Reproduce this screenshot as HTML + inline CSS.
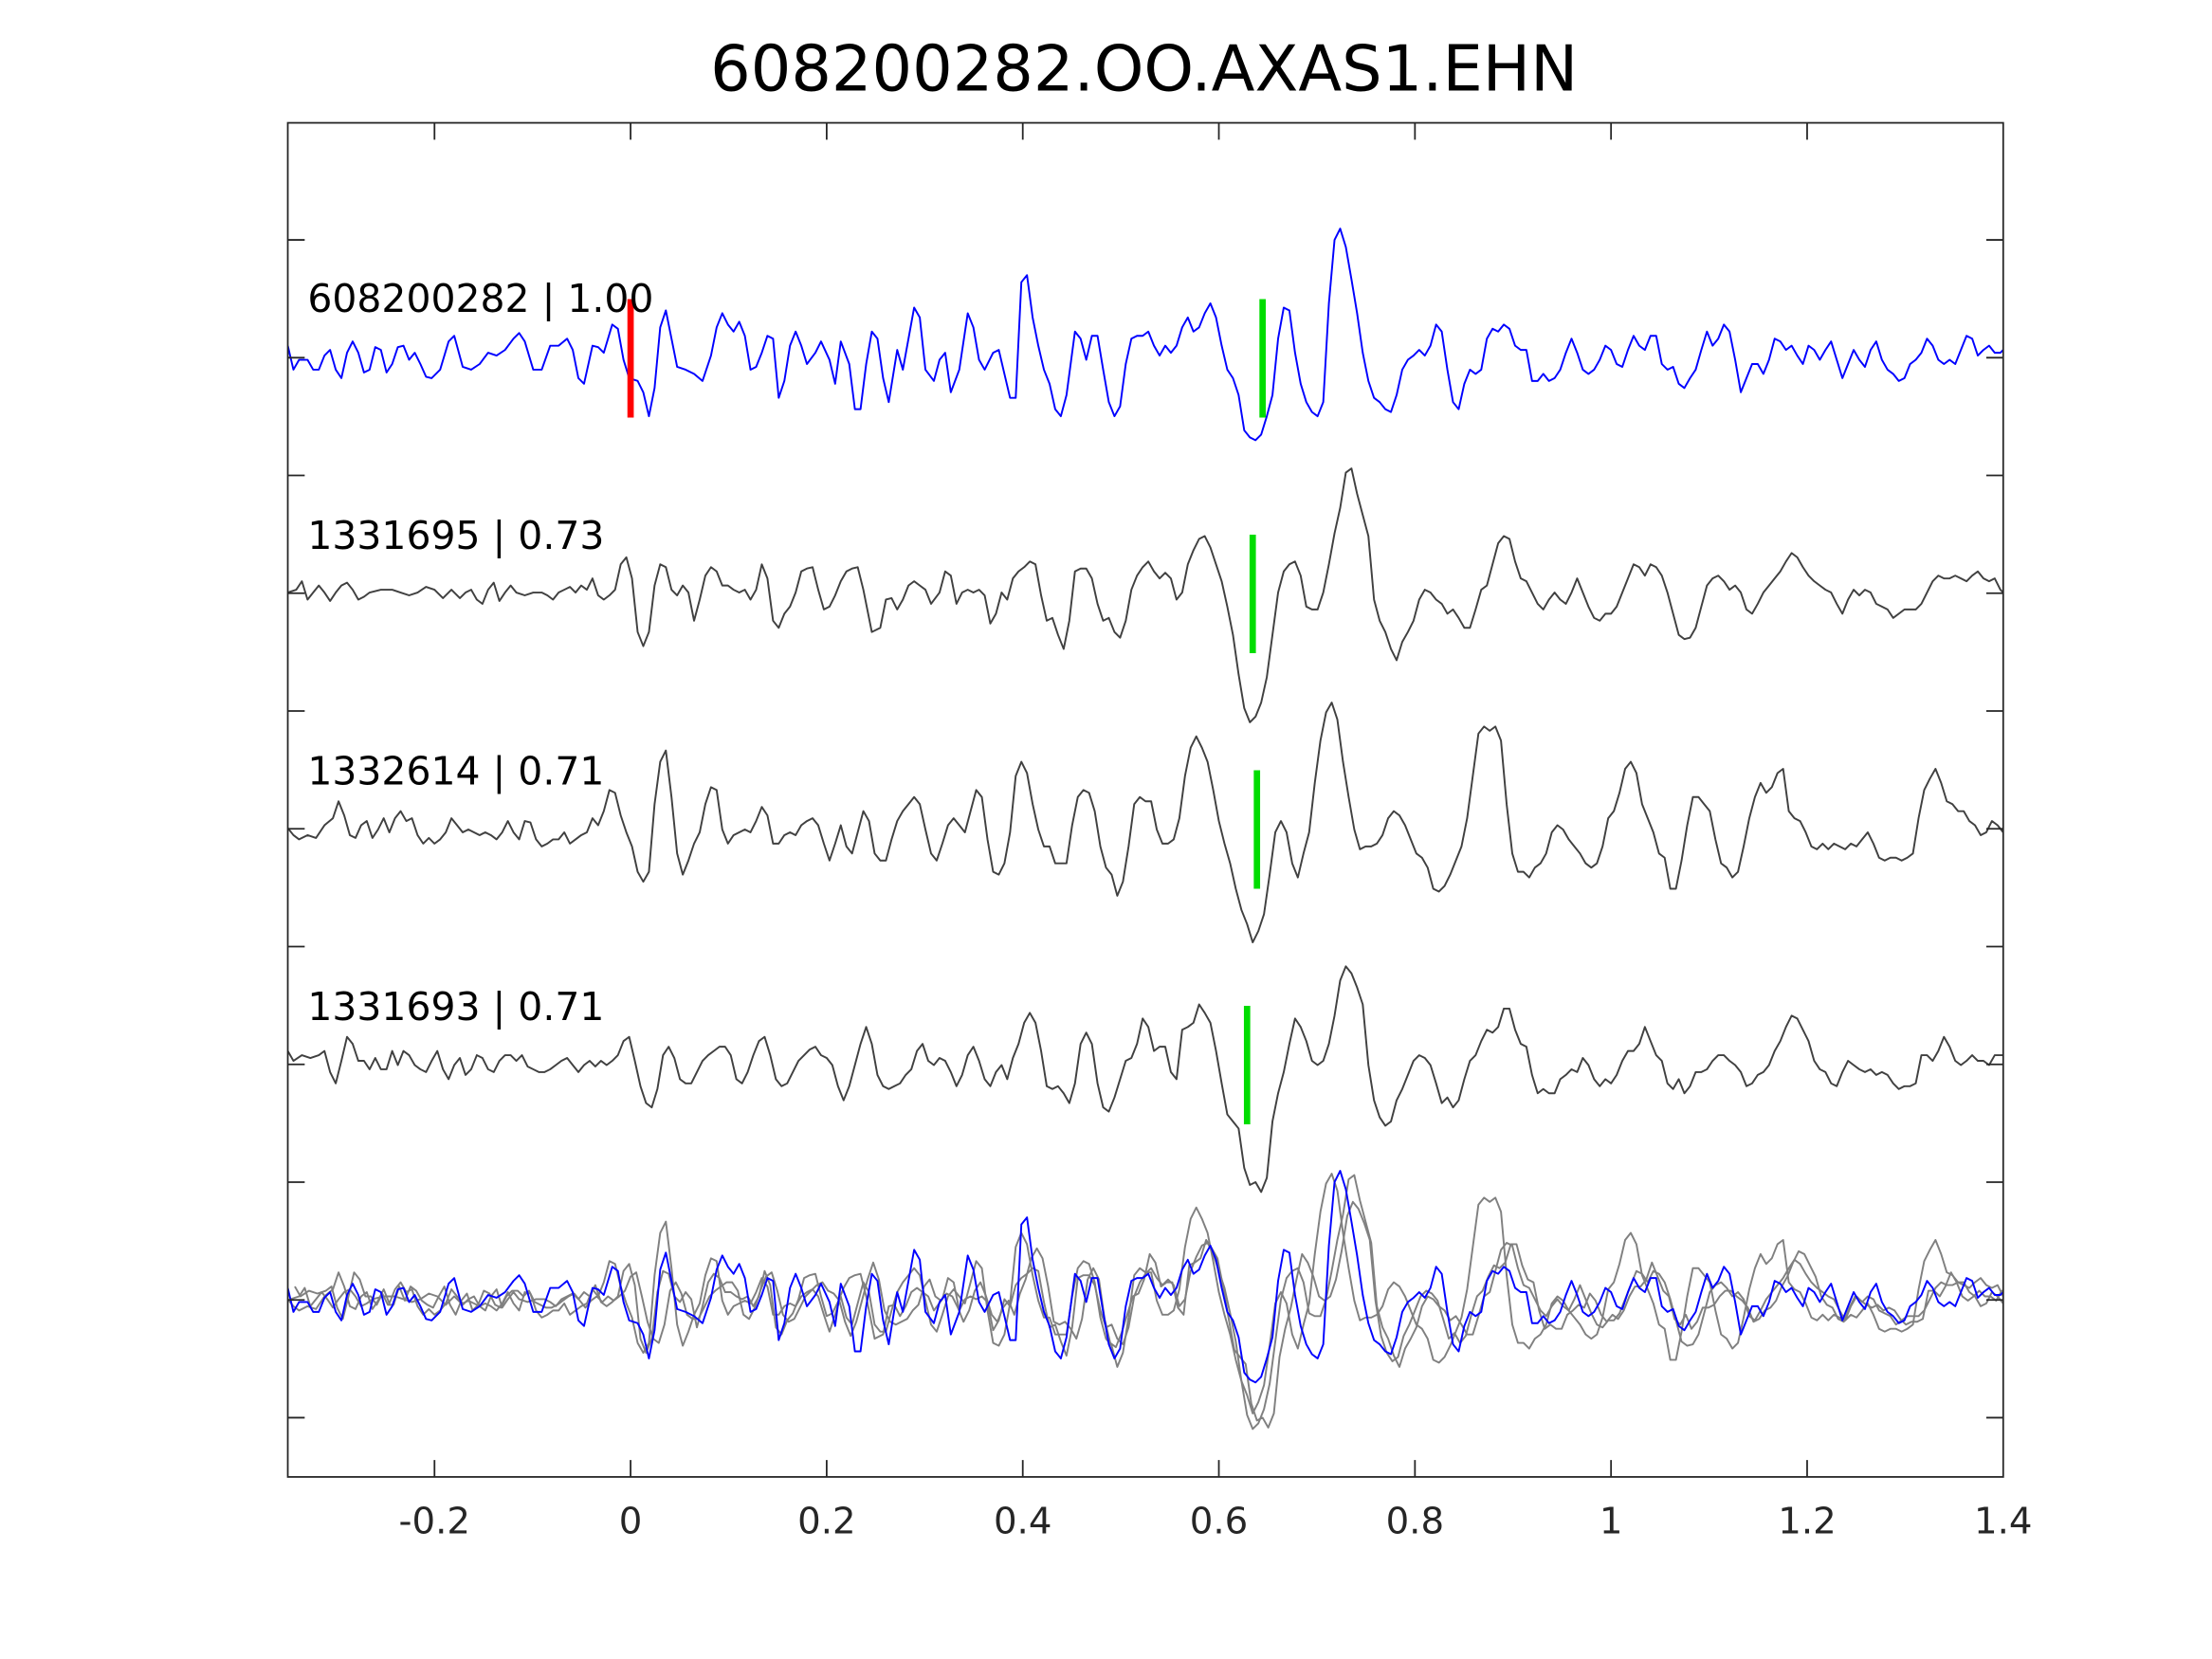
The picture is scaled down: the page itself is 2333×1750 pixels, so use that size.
<!DOCTYPE html>
<html><head><meta charset="utf-8"><style>
html,body{margin:0;padding:0;background:#fff;}
svg{display:block;}
text{font-family:"DejaVu Sans","Liberation Sans",sans-serif;}
</style></head><body>
<svg width="2333" height="1750" viewBox="0 0 1568 1176" xmlns="http://www.w3.org/2000/svg">
<defs>
<polyline id="t1" fill="none" stroke-width="1.3" stroke-linejoin="round" points="204,245 208,262 212,255 218,255 222,262 226,262 230,252 234,248 238,262 242,268 246,250 250,242 254,250 258,264 262,262 266,246 270,248 274,264 278,258 282,246 286,245 290,255 294,250 298,258 302,267 306,268 312,262 318,242 322,238 328,260 334,262 340,258 346,250 352,252 358,248 364,240 368,236 372,242 378,262 384,262 390,245 396,245 402,240 406,248 410,268 414,272 420,245 424,246 428,250 434,230 438,233 442,255 446,268 452,270 456,278 460,295 464,275 468,232 472,220 476,240 480,260 486,262 492,265 498,270 504,252 508,232 512,222 516,230 520,235 524,228 528,238 532,262 536,260 540,250 544,238 548,240 552,282 556,270 560,245 564,235 568,245 572,258 578,250 582,242 588,255 592,272 596,242 602,258 606,290 610,290 614,258 618,235 622,240 626,268 630,285 636,248 640,262 644,240 648,218 652,225 656,262 662,270 666,255 670,250 674,278 680,262 686,222 690,232 694,255 698,262 704,250 708,248 712,265 716,282 720,282 724,200 728,195 732,225 736,245 740,262 744,272 748,290 752,295 756,280 762,235 766,240 770,255 774,238 778,238 782,262 786,285 790,295 794,288 798,258 802,240 806,238 810,238 814,235 818,245 822,252 826,245 830,250 834,245 838,232 842,225 846,235 850,232 854,222 858,215 862,225 866,245 870,262 874,268 878,280 882,305 886,310 890,312 894,308 898,295 902,280 906,240 910,218 914,220 918,250 922,272 926,285 930,292 934,295 938,285 942,215 946,170 950,162 954,175 958,198 962,222 966,250 970,270 974,282 978,285 982,290 986,292 990,280 994,262 998,255 1002,252 1006,248 1010,252 1014,245 1018,230 1022,235 1026,262 1030,285 1034,290 1038,272 1042,262 1046,265 1050,262 1054,240 1058,233 1062,235 1066,230 1070,233 1074,245 1078,248 1082,248 1086,270 1090,270 1094,265 1098,270 1102,268 1106,262 1110,250 1114,240 1118,250 1122,262 1126,265 1130,262 1134,255 1138,245 1142,248 1146,258 1150,260 1154,248 1158,238 1162,245 1166,248 1170,238 1174,238 1178,258 1182,262 1186,260 1190,272 1194,275 1198,268 1202,262 1206,248 1210,235 1214,245 1218,240 1222,230 1226,235 1230,255 1234,278 1238,268 1242,258 1246,258 1250,265 1254,255 1258,240 1262,242 1266,248 1270,245 1274,252 1278,258 1282,245 1286,248 1290,255 1294,248 1298,242 1302,255 1306,268 1310,258 1314,248 1318,255 1322,260 1326,248 1330,242 1334,255 1338,262 1342,265 1346,270 1350,268 1354,258 1358,255 1362,250 1366,240 1370,245 1374,255 1378,258 1382,255 1386,258 1390,248 1394,238 1398,240 1402,252 1406,248 1410,245 1414,250 1418,250 1420,248"/>
<polyline id="t2" fill="none" stroke-width="1.3" stroke-linejoin="round" points="204,420 210,418 214,412 218,425 222,420 226,415 230,420 234,426 238,420 242,415 246,413 250,418 254,425 258,423 262,420 270,418 278,418 284,420 290,422 296,420 302,416 308,418 314,424 320,418 326,424 330,420 334,418 338,425 342,428 346,418 350,413 354,426 358,420 362,415 366,420 372,422 378,420 384,420 388,422 392,425 396,420 400,418 404,416 408,420 412,415 416,418 420,410 424,422 428,425 432,422 436,418 440,400 444,395 448,410 452,448 456,458 460,448 464,415 468,400 472,402 476,418 480,422 484,415 488,420 492,440 496,425 500,408 504,402 508,405 512,415 516,415 520,418 524,420 528,418 532,425 536,418 540,400 544,410 548,440 552,445 556,435 560,430 564,420 568,405 572,403 576,402 580,418 584,432 588,430 592,422 596,412 600,405 604,403 608,402 612,418 618,448 624,445 628,425 632,424 636,432 640,425 644,415 648,412 652,415 656,418 660,428 666,420 670,405 674,408 678,428 682,420 686,418 690,420 694,418 698,422 702,442 706,435 710,420 714,425 718,410 722,405 726,402 730,398 734,400 738,422 742,440 746,438 750,450 754,460 758,440 762,405 766,403 770,403 774,410 778,428 782,440 786,438 790,448 794,452 798,440 802,418 806,408 810,402 814,398 818,405 822,410 826,406 830,410 834,425 838,420 842,400 846,390 850,382 854,380 858,388 862,400 866,412 870,430 874,450 878,478 882,502 886,512 890,508 894,498 898,480 902,450 906,420 910,405 914,400 918,398 922,408 926,430 930,432 934,432 938,420 942,400 946,378 950,360 954,335 958,332 962,350 966,365 970,380 974,425 978,440 982,448 986,460 990,468 994,455 998,448 1002,440 1006,425 1010,418 1014,420 1018,425 1022,428 1026,435 1030,432 1034,438 1038,445 1042,445 1046,432 1050,418 1054,415 1058,400 1062,385 1066,380 1070,382 1074,398 1078,410 1082,412 1086,420 1090,428 1094,432 1098,425 1102,420 1106,425 1110,428 1114,420 1118,410 1122,420 1126,430 1130,438 1134,440 1138,435 1142,435 1146,430 1150,420 1154,410 1158,400 1162,402 1166,408 1170,400 1174,402 1178,408 1182,420 1186,435 1190,450 1194,453 1198,452 1202,445 1206,430 1210,415 1214,410 1218,408 1222,412 1226,418 1230,415 1234,420 1238,432 1242,435 1246,428 1250,420 1254,415 1258,410 1262,405 1266,398 1270,392 1274,395 1278,402 1282,408 1286,412 1290,415 1294,418 1298,420 1302,428 1306,435 1310,425 1314,418 1318,422 1322,418 1326,420 1330,428 1334,430 1338,432 1342,438 1346,435 1350,432 1354,432 1358,432 1362,428 1366,420 1370,412 1374,408 1378,410 1382,410 1386,408 1390,410 1394,412 1398,408 1402,405 1406,410 1410,412 1414,410 1418,418 1420,420"/>
<polyline id="t3" fill="none" stroke-width="1.3" stroke-linejoin="round" points="204,587 208,592 212,595 218,592 224,594 230,585 236,580 240,568 244,578 248,592 252,594 256,585 260,582 264,594 268,588 272,580 276,590 280,580 284,575 288,582 292,580 296,592 300,598 304,594 308,598 312,595 316,590 320,580 324,585 328,590 332,588 336,590 340,592 344,590 348,592 352,595 356,590 360,582 364,590 368,595 372,582 376,583 380,595 384,600 388,598 392,595 396,595 400,590 404,598 408,595 412,592 416,590 420,580 424,585 428,575 432,560 436,562 440,578 444,590 448,600 452,618 456,625 460,618 464,570 468,540 472,532 476,565 480,605 484,620 488,610 492,598 496,590 500,570 504,558 508,560 512,588 516,598 520,592 524,590 528,588 532,590 536,582 540,572 544,578 548,598 552,598 556,592 560,590 564,592 568,585 572,582 576,580 580,585 584,598 588,610 592,598 596,585 600,600 604,605 608,590 612,575 616,582 620,605 624,610 628,610 632,595 636,582 640,575 644,570 648,565 652,570 656,588 660,605 664,610 668,598 672,585 676,580 680,585 684,590 688,575 692,560 696,565 700,595 704,618 708,620 712,612 716,590 720,550 724,540 728,548 732,570 736,588 740,600 744,600 748,612 752,612 756,612 760,585 764,565 768,560 772,562 776,575 780,600 784,615 788,620 792,635 796,625 800,600 804,570 808,565 812,568 816,568 820,588 824,598 828,598 832,595 836,580 840,550 844,530 848,522 852,530 856,540 860,560 864,582 868,598 872,612 876,630 880,645 884,655 888,668 892,660 896,648 900,620 904,590 908,582 912,590 916,612 920,622 924,605 928,590 932,555 936,525 940,505 944,498 948,510 952,540 956,565 960,588 964,602 968,600 972,600 976,598 980,592 984,580 988,575 992,578 996,585 1000,595 1004,605 1008,608 1012,615 1016,630 1020,632 1024,628 1028,620 1032,610 1036,600 1040,580 1044,550 1048,520 1052,515 1056,518 1060,515 1064,525 1068,570 1072,605 1076,618 1080,618 1084,622 1088,615 1092,612 1096,605 1100,590 1104,585 1108,588 1112,595 1116,600 1120,605 1124,612 1128,615 1132,612 1136,600 1140,580 1144,575 1148,562 1152,545 1156,540 1160,548 1164,570 1168,580 1172,590 1176,605 1180,608 1184,630 1188,630 1192,610 1196,585 1200,565 1204,565 1208,570 1212,575 1216,595 1220,612 1224,615 1228,622 1232,618 1236,600 1240,580 1244,565 1248,555 1252,562 1256,558 1260,548 1264,545 1268,575 1272,580 1276,582 1280,590 1284,600 1288,602 1292,598 1296,602 1300,598 1304,600 1308,602 1312,598 1316,600 1320,595 1324,590 1328,598 1332,608 1336,610 1340,608 1344,608 1348,610 1352,608 1356,605 1360,580 1364,560 1368,552 1372,545 1376,555 1380,568 1384,570 1388,575 1392,575 1396,582 1400,585 1404,592 1408,590 1412,582 1416,585 1420,590"/>
<polyline id="t4" fill="none" stroke-width="1.3" stroke-linejoin="round" points="204,745 208,752 214,748 220,750 226,748 230,745 234,760 238,768 242,752 246,735 250,740 254,752 258,752 262,758 266,750 270,758 274,758 278,745 282,755 286,745 290,748 294,755 298,758 302,760 306,752 310,745 314,758 318,765 322,755 326,750 330,762 334,758 338,748 342,750 346,758 350,760 354,752 358,748 362,748 366,752 370,748 374,756 378,758 382,760 386,760 390,758 394,755 398,752 402,750 406,755 410,760 414,755 418,752 422,756 426,752 430,755 434,752 438,748 442,738 446,735 450,752 454,770 458,782 462,785 466,772 470,748 474,742 478,750 482,765 486,768 490,768 494,760 498,752 502,748 506,745 510,742 514,742 518,748 522,765 526,768 530,760 534,748 538,738 542,735 546,748 550,765 554,770 558,768 562,760 566,752 570,748 574,744 578,742 582,748 586,750 590,755 594,770 598,780 602,770 606,755 610,740 614,728 618,740 622,762 626,770 630,772 634,770 638,768 642,762 646,758 650,745 654,740 658,752 662,755 666,750 670,752 674,760 678,770 682,762 686,748 690,742 694,752 698,765 702,770 706,760 710,755 714,765 718,750 722,740 726,725 730,718 734,725 738,745 742,770 746,772 750,770 754,775 758,782 762,768 766,740 770,732 774,740 778,768 782,785 786,788 790,778 794,765 798,752 802,750 806,740 810,722 814,728 818,745 822,742 826,742 830,760 834,765 838,730 842,728 846,725 850,712 854,718 858,725 862,745 866,768 870,790 874,795 878,800 882,828 886,840 890,838 894,845 898,835 902,795 906,775 910,760 914,740 918,722 922,728 926,738 930,752 934,755 938,752 942,740 946,720 950,695 954,685 958,690 962,700 966,712 970,755 974,780 978,792 982,798 986,795 990,780 994,772 998,762 1002,752 1006,748 1010,750 1014,755 1018,768 1022,782 1026,778 1030,785 1034,780 1038,765 1042,752 1046,748 1050,738 1054,730 1058,732 1062,728 1066,715 1070,715 1074,730 1078,740 1082,742 1086,762 1090,775 1094,772 1098,775 1102,775 1106,765 1110,762 1114,758 1118,760 1122,750 1126,755 1130,765 1134,770 1138,765 1142,768 1146,762 1150,752 1154,745 1158,745 1162,740 1166,728 1170,738 1174,748 1178,752 1182,768 1186,772 1190,765 1194,775 1198,770 1202,760 1206,760 1210,758 1214,752 1218,748 1222,748 1226,752 1230,755 1234,760 1238,770 1242,768 1246,762 1250,760 1254,755 1258,745 1262,738 1266,728 1270,720 1274,722 1278,730 1282,738 1286,752 1290,758 1294,760 1298,768 1302,770 1306,760 1310,752 1314,755 1318,758 1322,760 1326,758 1330,762 1334,760 1338,762 1342,768 1346,772 1350,770 1354,770 1358,768 1362,748 1366,748 1370,752 1374,745 1378,735 1382,742 1386,752 1390,755 1394,752 1398,748 1402,752 1406,752 1410,755 1414,748 1418,748 1420,748"/>
<clipPath id="ax"><rect x="204" y="87" width="1216" height="960"/></clipPath>
</defs>
<text x="811" y="64" font-size="45" text-anchor="middle" fill="#000">608200282.OO.AXAS1.EHN</text>
<g clip-path="url(#ax)">
<use href="#t1" stroke="#0000ff"/>
<use href="#t2" stroke="#404040"/>
<use href="#t3" stroke="#404040"/>
<use href="#t4" stroke="#404040"/>
<use href="#t2" stroke="#808080" transform="translate(2,501)"/>
<use href="#t3" stroke="#808080" transform="translate(0,334)"/>
<use href="#t4" stroke="#808080" transform="translate(5,167)"/>
<use href="#t1" stroke="#0000ff" transform="translate(0,668)"/>
</g>
<g stroke-width="4.5">
<line x1="447" y1="212" x2="447" y2="296" stroke="#ff0000"/>
<line x1="895" y1="212" x2="895" y2="296" stroke="#00dd00"/>
<line x1="888" y1="379" x2="888" y2="463" stroke="#00dd00"/>
<line x1="891" y1="546" x2="891" y2="630" stroke="#00dd00"/>
<line x1="884" y1="713" x2="884" y2="797" stroke="#00dd00"/>
</g>
<g font-size="27.5" fill="#000">
<text x="218" y="221">608200282 | 1.00</text>
<text x="218" y="389">1331695 | 0.73</text>
<text x="218" y="556">1332614 | 0.71</text>
<text x="218" y="723">1331693 | 0.71</text>
</g>
<g stroke="#262626" stroke-width="1.2" fill="none">
<rect x="204" y="87" width="1216" height="960"/>
<path d="M308,87v12M447,87v12M586,87v12M725,87v12M864,87v12M1003,87v12M1142,87v12M1281,87v12
M308,1047v-12M447,1047v-12M586,1047v-12M725,1047v-12M864,1047v-12M1003,1047v-12M1142,1047v-12M1281,1047v-12
M204,170h12M204,253.5h12M204,337h12M204,420.5h12M204,504h12M204,587.5h12M204,671h12M204,754.5h12M204,838h12M204,921.5h12M204,1005h12
M1420,170h-12M1420,253.5h-12M1420,337h-12M1420,420.5h-12M1420,504h-12M1420,587.5h-12M1420,671h-12M1420,754.5h-12M1420,838h-12M1420,921.5h-12M1420,1005h-12"/>
</g>
<g font-size="26" fill="#262626" text-anchor="middle">
<text x="308" y="1087">-0.2</text>
<text x="447" y="1087">0</text>
<text x="586" y="1087">0.2</text>
<text x="725" y="1087">0.4</text>
<text x="864" y="1087">0.6</text>
<text x="1003" y="1087">0.8</text>
<text x="1142" y="1087">1</text>
<text x="1281" y="1087">1.2</text>
<text x="1420" y="1087">1.4</text>
</g>
</svg>
</body></html>
